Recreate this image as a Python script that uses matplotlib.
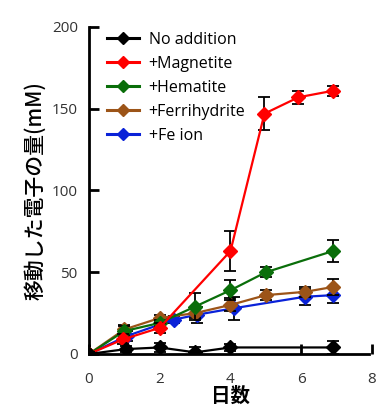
import matplotlib
matplotlib.use("Agg")
import matplotlib.pyplot as plt
from matplotlib.lines import Line2D

plt.rcParams["font.family"] = ["Open Sans", "Noto Sans CJK JP", "DejaVu Sans"]

LABELS = ["No addition", "+Magnetite", "+Hematite", "+Ferrihydrite", "+Fe ion"]
COLORS = ["#000000", "#ff0000", "#0a6e0a", "#9c5418", "#0a22d8"]

none_x = [0, 1.05, 2, 3, 4, 6.9]
none_y = [0, 3, 4, 1, 4, 4]
none_err = [1, 2, 3, 3, 2, 4]

mag_x = [0, 0.97, 2, 4, 4.96, 5.92, 6.9]
mag_y = [0, 9, 16, 63, 147, 157, 161]
mag_err = [0, 3, 3, 12, 10, 4, 3]

hem_x = [0, 1, 2, 3, 4, 5, 6.9]
hem_y = [0, 14, 19, 29, 39, 50, 63]
hem_err = [0, 3, 2, 8, 6, 3, 7]

fer_x = [0, 1, 2, 3, 4, 5, 6.1, 6.9]
fer_y = [0, 15, 22, 25, 30, 36, 38, 41]
fer_err = [0, 3, 2, 3, 4, 3, 3, 5]

fe_x = [0, 1.07, 2.4, 3.05, 4.1, 6.1, 6.9]
fe_y = [0, 11, 21, 24, 28, 35, 36]
fe_err = [0, 3, 2, 5, 7, 5, 5]

series = [
    (none_x, none_y, none_err),
    (mag_x, mag_y, mag_err),
    (hem_x, hem_y, hem_err),
    (fer_x, fer_y, fer_err),
    (fe_x, fe_y, fe_err),
]

fig = plt.figure(figsize=(3.9, 4.15), dpi=100)
ax = fig.add_axes([0.228, 0.147, 0.726, 0.788])

# draw later series first so the black baseline stays on top
for i in [4, 3, 2, 1, 0]:
    x, y, err = series[i]
    ax.errorbar(
        x, y, yerr=err,
        color=COLORS[i], ecolor="black", elinewidth=1.3, capsize=4, capthick=1.3,
        linewidth=1.6, marker="D", markersize=7, zorder=3 + (5 - i),
    )

ax.set_xlim(0, 8)
ax.set_ylim(0, 200)
ax.set_xticks([0, 2, 4, 6, 8])
ax.set_yticks([0, 50, 100, 150, 200])
ax.tick_params(axis="both", direction="in", length=7, width=2, colors="black",
               labelcolor="#333333", labelsize=11)
ax.tick_params(axis="y", pad=8)
ax.tick_params(axis="x", pad=13)
for side in ["top", "right"]:
    ax.spines[side].set_visible(False)
for side in ["left", "bottom"]:
    ax.spines[side].set_linewidth(2)
ax.spines["bottom"].set_bounds(0, 7.9)

ax.set_xlabel("日数", fontsize=14, fontweight="bold",
              family=["Noto Sans CJK JP", "DejaVu Sans"], labelpad=0)
ax.set_ylabel("移動した電子の量(mM)", fontsize=15, fontweight="medium",
              family=["Noto Sans CJK JP", "DejaVu Sans"], labelpad=4)

handles = [Line2D([], [], color=c, linewidth=2.2, marker="D", markersize=6) for c in COLORS]
ax.legend(handles, LABELS, loc="upper left",
          bbox_to_anchor=(0.03, 1.015), frameon=False, fontsize=11.5,
          handlelength=2.0, handletextpad=0.6, labelspacing=0.5, borderaxespad=0.2)

fig.savefig("out.png", dpi=100)
